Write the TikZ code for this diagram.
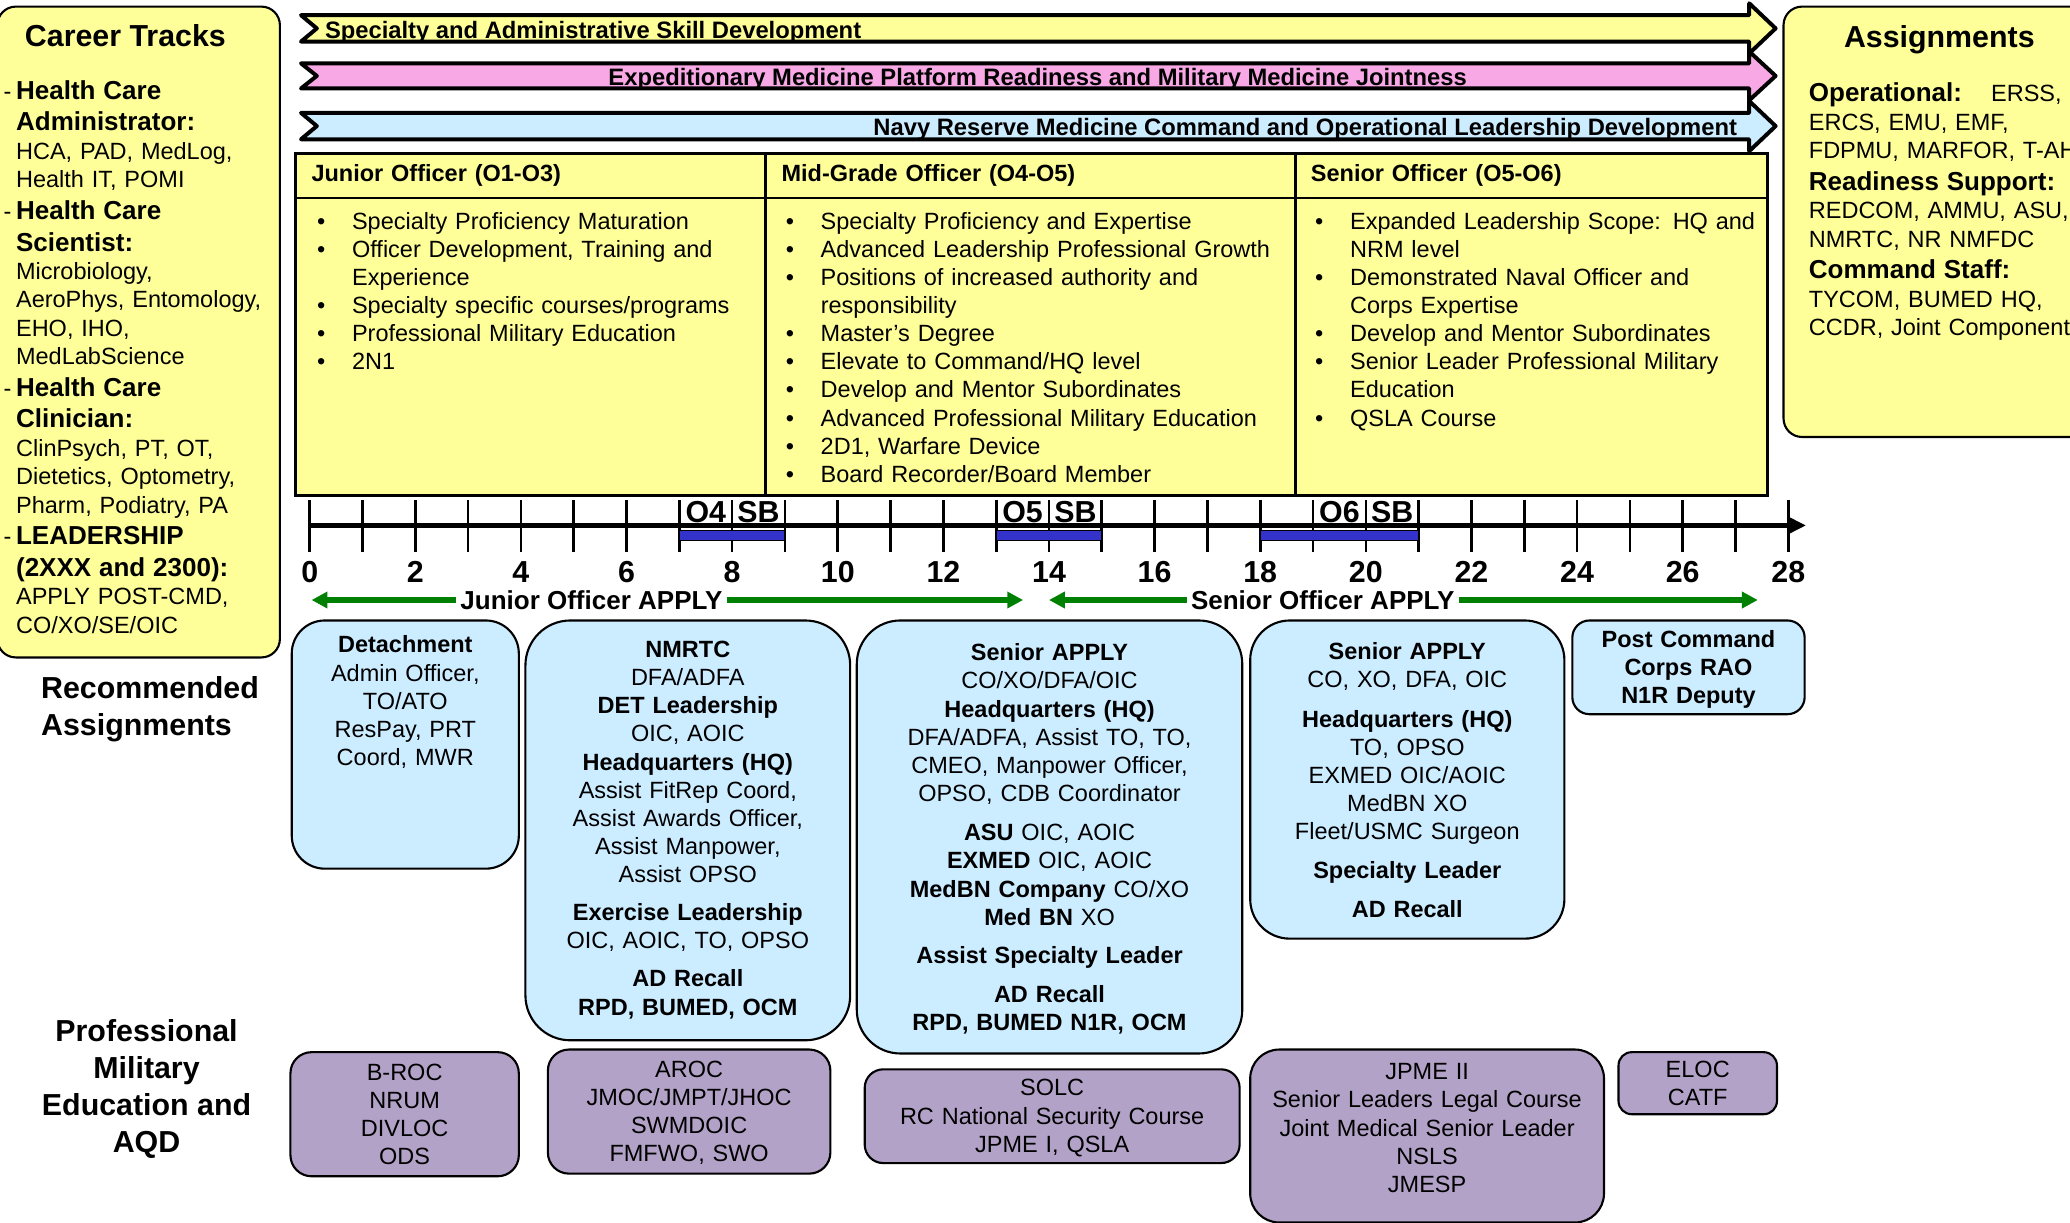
\documentclass[tikz,border=0pt]{standalone}
\usepackage{fontspec}
\setmainfont{Liberation Sans}
\usetikzlibrary{arrows.meta,positioning}

\definecolor{trackyellow}{HTML}{FFFF99}
\definecolor{assignblue}{HTML}{CCECFF}
\definecolor{pmepurple}{HTML}{B3A2C7}
\definecolor{jointpink}{HTML}{F9A8E6}
\definecolor{boardblue}{HTML}{3333CC}
\definecolor{applygreen}{HTML}{008000}

\newcommand{\ctn}{\fontsize{17.8}{21.5}\selectfont\mdseries}
\newcommand{\ctb}{\fontsize{19.7}{24}\selectfont\bfseries}
\newcommand{\bxn}{\fontsize{17.8}{21.3}\selectfont\mdseries}
\newcommand{\bxb}{\fontsize{17.8}{21.3}\selectfont\bfseries}
\newcommand{\trk}{\leavevmode\llap{\ctn -\hspace{3.5pt}}}
\newcommand{\ladderitem}[1]{\makebox[26.5pt][l]{•}#1\par}
\newcommand{\laddercont}[1]{\hspace*{26.5pt}#1\par}
\newcommand{\careerbanner}[3]{%
  \filldraw[banner, fill=#3] (228,#1) -- (1325,#1) -- (1325,#1-9) -- (1345,{(#1+#2)/2})
    -- (1325,#2+9) -- (1325,#2) -- (228,#2) -- (240,{(#1+#2)/2}) -- cycle;}

\tikzset{
  panel/.style={draw, line width=1.6pt, fill=trackyellow, rounded corners=14pt,
    inner sep=0pt, outer sep=0pt, anchor=north west},
  banner/.style={draw, line width=3pt, line join=round},
  bannertext/.style={inner sep=0pt, font=\fontsize{18}{21}\selectfont\bfseries},
  laddercell/.style={draw, line width=2.2pt, fill=trackyellow, inner sep=0pt,
    outer sep=0pt, anchor=north west},
  ladderhead/.style={laddercell, inner xsep=12pt, minimum height=34pt, align=left, font=\bxb},
  laddertext/.style={inner sep=0pt, anchor=north west, text width=#1, align=left,
    font=\bxn, execute at begin node={\setlength{\parindent}{0pt}}},
  assignbox/.style={draw, line width=1.6pt, fill=assignblue, rounded corners=#1,
    inner sep=0pt, outer sep=0pt, anchor=north west},
  pmebox/.style={draw, line width=1.6pt, fill=pmepurple, rounded corners=#1,
    inner sep=0pt, outer sep=0pt, anchor=north west},
  boxtext/.style={inner sep=0pt, anchor=north, text width=#1, align=center,
    font=\bxn, execute at begin node={\setlength{\parindent}{0pt}}},
  biglabel/.style={inner sep=0pt, font=\fontsize{23}{28}\selectfont\bfseries},
  yeartick/.style={line width=2pt},
  boardbar/.style={draw, line width=0.8pt, fill=boardblue},
  applyarrow/.style={draw=applygreen, line width=4.5pt, -{Triangle[length=12pt,width=12pt]}},
  applylabel/.style={font=\ctb, inner sep=3pt}
}

\begin{document}
\begin{tikzpicture}[x=1pt,y=-1pt]
\clip (0,0) rectangle (1568,926);
\fill[white] (0,0) rectangle (1568,926);

% side panels
\node[panel, minimum width=214pt, minimum height=493pt] (trackpanel) at (-2,5) {};
\node[panel, minimum width=280pt, minimum height=326pt] (assignpanel) at (1351,5) {};
\node[biglabel] (tracktitle) at (95,27) {Career Tracks};
\node[biglabel] (assigntitle) at (1469,30) {Assignments};

\node[laddertext=220pt] (tracklist) at (12,60.7) {%
  \ctb\trk Health Care\par
  Administrator:\par
  \ctn HCA, PAD, MedLog,\par
  Health IT, POMI\par
  \ctb\trk Health Care\par
  Scientist:\par
  \ctn Microbiology,\par
  AeroPhys, Entomology,\par
  EHO, IHO,\par
  MedLabScience\par
  \ctb\trk Health Care\par
  Clinician:\par
  \ctn ClinPsych, PT, OT,\par
  Dietetics, Optometry,\par
  Pharm, Podiatry, PA\par
  \ctb\trk LEADERSHIP\par
  (2XXX and 2300):\par
  \ctn APPLY POST-CMD,\par
  CO/XO/SE/OIC\par};

\node[laddertext=260pt] (assignlist) at (1370,62.7) {%
  {\ctb Operational:}\hspace{22pt}\ctn ERSS,\par
  ERCS, EMU, EMF,\par
  FDPMU, MARFOR, T-AH\par
  \ctb Readiness Support:\par
  \ctn REDCOM, AMMU, ASU,\par
  NMRTC, NR NMFDC\par
  \ctb Command Staff:\par
  \ctn TYCOM, BUMED HQ,\par
  CCDR, Joint Component\par};

% development banners
\careerbanner{11.5}{31.5}{trackyellow}
\careerbanner{48}{67}{jointpink}
\careerbanner{85.5}{105.5}{assignblue}
\node[bannertext, anchor=base west] (skillband) at (246,29) {Specialty and Administrative Skill Development};
\node[bannertext, anchor=base] (jointband) at (786,64.5) {Expeditionary Medicine Platform Readiness and Military Medicine Jointness};
\node[bannertext, anchor=base east] (navyband) at (1316,102.5) {Navy Reserve Medicine Command and Operational Leadership Development};

% officer ladder
\node[ladderhead, text width=332pt] (jrhead) at (224,116) {Junior Officer (O1-O3)};
\node[ladderhead, text width=377pt] (midhead) at (580,116) {Mid-Grade Officer (O4-O5)};
\node[ladderhead, text width=334pt] (srhead) at (981,116) {Senior Officer (O5-O6)};
\node[laddercell, minimum width=356pt, minimum height=225pt] (jrbody) at (224,150) {};
\node[laddercell, minimum width=401pt, minimum height=225pt] (midbody) at (580,150) {};
\node[laddercell, minimum width=358pt, minimum height=225pt] (srbody) at (981,150) {};

\node[laddertext=340pt] (jrlist) at (240,160.5) {%
  \ladderitem{Specialty Proficiency Maturation}
  \ladderitem{Officer Development, Training and}
  \laddercont{Experience}
  \ladderitem{Specialty specific courses/programs}
  \ladderitem{Professional Military Education}
  \ladderitem{2N1}};
\node[laddertext=385pt] (midlist) at (595,160.5) {%
  \ladderitem{Specialty Proficiency and Expertise}
  \ladderitem{Advanced Leadership Professional Growth}
  \ladderitem{Positions of increased authority and}
  \laddercont{responsibility}
  \ladderitem{Master’s Degree}
  \ladderitem{Elevate to Command/HQ level}
  \ladderitem{Develop and Mentor Subordinates}
  \ladderitem{Advanced Professional Military Education}
  \ladderitem{2D1, Warfare Device}
  \ladderitem{Board Recorder/Board Member}};
\node[laddertext=340pt] (srlist) at (996,160.5) {%
  \ladderitem{Expanded Leadership Scope: HQ and}
  \laddercont{NRM level}
  \ladderitem{Demonstrated Naval Officer and}
  \laddercont{Corps Expertise}
  \ladderitem{Develop and Mentor Subordinates}
  \ladderitem{Senior Leader Professional Military}
  \laddercont{Education}
  \ladderitem{QSLA Course}};

% years of service
\foreach \n in {0,...,28}
  \draw[yeartick] ({234.6+40*\n},379) -- ({234.6+40*\n},418);
\coordinate (axisstart) at (234.6,398);
\coordinate (axisend) at (1368,398);
\draw[line width=3.3pt, -{Triangle[length=14pt,width=13pt]}] (axisstart) -- (axisend);
\foreach \a/\b in {7/9,13/15,18/21}
  \draw[boardbar] ({234.6+40*\a},401.5) rectangle ({234.6+40*\b},409.5);
\foreach \g/\s in {7/4,13/5,19/6} {
  \node[biglabel] (grade\s) at ({234.6+40*(\g+0.5)},388) {O\s};
  \node[biglabel] (board\s) at ({234.6+40*(\g+1.5)},388) {SB};
}
\foreach \n in {0,2,...,28}
  \node[biglabel] (yr\n) at ({234.6+40*\n},433) {\n};

% apply windows
\node[applylabel] (jrapply) at (448,454.5) {Junior Officer APPLY};
\coordinate (jrstart) at (236,454.5);
\coordinate (jrend) at (775,454.5);
\draw[applyarrow] (jrapply) -- (jrstart);
\draw[applyarrow] (jrapply) -- (jrend);
\node[applylabel] (srapply) at (1002,454.5) {Senior Officer APPLY};
\coordinate (srstart) at (794.6,454.5);
\coordinate (srend) at (1331.5,454.5);
\draw[applyarrow] (srapply) -- (srstart);
\draw[applyarrow] (srapply) -- (srend);

% recommended assignments
\node[biglabel, anchor=north west, align=left] (recommended) at (31,512.4) {Recommended\\Assignments};
\node[assignbox=25pt, minimum width=172pt, minimum height=188pt] (detbox) at (221,470) {};
\node[assignbox=34pt, minimum width=246pt, minimum height=318pt] (nmrtcbox) at (398,470) {};
\node[assignbox=33pt, minimum width=292pt, minimum height=328pt] (midbox) at (649,470) {};
\node[assignbox=30pt, minimum width=238pt, minimum height=241pt] (srbox) at (947,470) {};
\node[assignbox=13pt, minimum width=176pt, minimum height=71pt] (postbox) at (1191,470) {};

\node[boxtext=170pt] (dettext) at (307,481.5) {%
  \bxb Detachment\par
  \bxn Admin Officer,\par TO/ATO\par ResPay, PRT\par Coord, MWR\par};
\node[boxtext=240pt] (nmrtctext) at (521,485.5) {%
  \bxb NMRTC\par
  \bxn DFA/ADFA\par
  \bxb DET Leadership\par
  \bxn OIC, AOIC\par
  \bxb Headquarters (HQ)\par
  \bxn Assist FitRep Coord,\par Assist Awards Officer,\par Assist Manpower,\par Assist OPSO\par
  \vspace{7.6pt}\bxb Exercise Leadership\par
  \bxn OIC, AOIC, TO, OPSO\par
  \vspace{7.6pt}\bxb AD Recall\par
  RPD, BUMED, OCM\par};
\node[boxtext=290pt] (midtext) at (795,487.5) {%
  \bxb Senior APPLY\par
  \bxn CO/XO/DFA/OIC\par
  \bxb Headquarters (HQ)\par
  \bxn DFA/ADFA, Assist TO, TO,\par CMEO, Manpower Officer,\par OPSO, CDB Coordinator\par
  \vspace{8.5pt}\textbf{ASU} OIC, AOIC\par
  \textbf{EXMED} OIC, AOIC\par
  \textbf{MedBN Company} CO/XO\par
  \textbf{Med BN} XO\par
  \vspace{8pt}\bxb Assist Specialty Leader\par
  \vspace{8pt}AD Recall\par
  RPD, BUMED N1R, OCM\par};
\node[boxtext=236pt] (srtext) at (1066,486.5) {%
  \bxb Senior APPLY\par
  \bxn CO, XO, DFA, OIC\par
  \vspace{8.5pt}\bxb Headquarters (HQ)\par
  \bxn TO, OPSO\par EXMED OIC/AOIC\par MedBN XO\par Fleet/USMC Surgeon\par
  \vspace{8.5pt}\bxb Specialty Leader\par
  \vspace{8pt}AD Recall\par};
\node[boxtext=174pt] (posttext) at (1279,477.5) {%
  \bxb Post Command\par Corps RAO\par N1R Deputy\par};

% professional military education
\node[biglabel, anchor=north, align=center] (pmelabel) at (111,772.4) {Professional\\Military\\Education and\\AQD};
\node[pmebox=16pt, minimum width=173pt, minimum height=94pt] (brocbox) at (220,797) {};
\node[pmebox=16pt, minimum width=214pt, minimum height=94pt] (arocbox) at (415,795) {};
\node[pmebox=14pt, minimum width=284pt, minimum height=71pt] (solcbox) at (655,810) {};
\node[pmebox=22pt, minimum width=268pt, minimum height=131pt] (jpmebox) at (947,795) {};
\node[pmebox=10pt, minimum width=120pt, minimum height=47pt] (elocbox) at (1226,797) {};

\node[boxtext=170pt] (broctext) at (306.5,805.5) {B-ROC\par NRUM\par DIVLOC\par ODS\par};
\node[boxtext=210pt] (aroctext) at (522,803.5) {AROC\par JMOC/JMPT/JHOC\par SWMDOIC\par FMFWO, SWO\par};
\node[boxtext=280pt] (solctext) at (797,817.5) {SOLC\par RC National Security Course\par JPME I, QSLA\par};
\node[boxtext=264pt] (jpmetext) at (1081,805.5) {JPME II\par Senior Leaders Legal Course\par Joint Medical Senior Leader\par NSLS\par JMESP\par};
\node[boxtext=118pt] (eloctext) at (1286,803.5) {ELOC\par CATF\par};
\end{tikzpicture}
\end{document}
